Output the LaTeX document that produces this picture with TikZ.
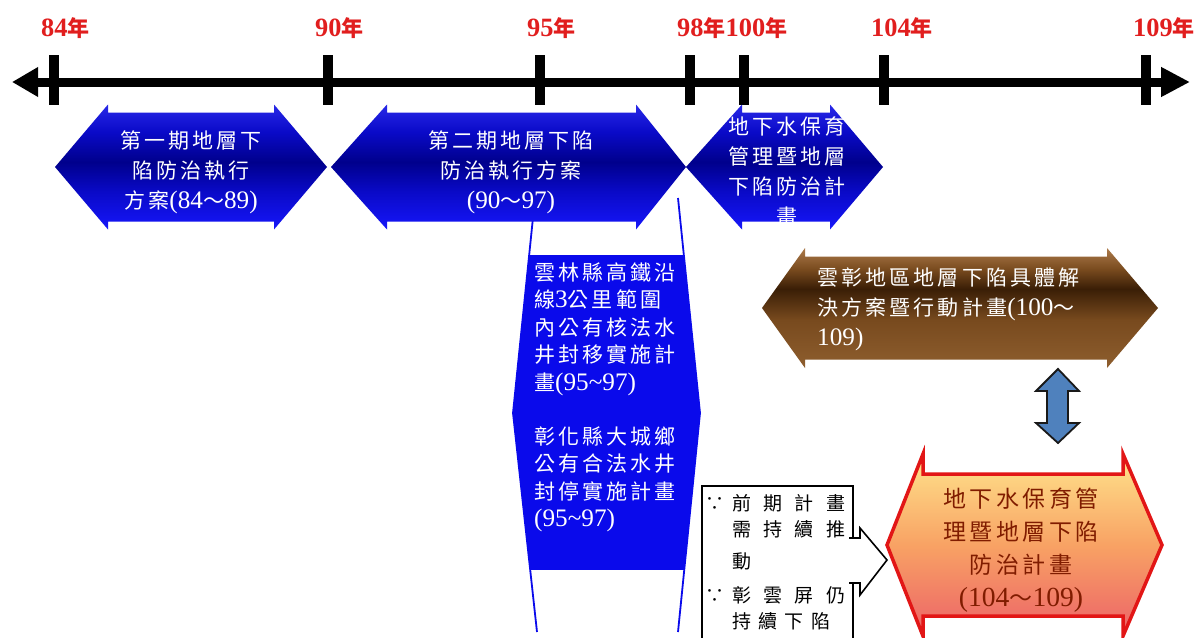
\documentclass[tikz,border=0pt]{standalone}
\usepackage{fontspec}
\usetikzlibrary{arrows.meta}
\setmainfont{Noto Sans CJK TC}[LetterSpace=15]
\newfontfamily\cjkplain{Noto Sans CJK TC}
\newfontfamily\lat{Liberation Serif}[Scale=1.2]
\newcommand\dg[1]{{\lat #1}}
\definecolor{yearred}{RGB}{225,30,30}
\definecolor{blA}{RGB}{22,22,250}
\definecolor{blB}{RGB}{10,10,200}
\definecolor{blC}{RGB}{0,0,140}
\definecolor{blD}{RGB}{40,40,232}
\definecolor{vfill}{RGB}{10,10,235}
\definecolor{brT}{RGB}{172,122,74}
\definecolor{brD}{RGB}{58,30,6}
\definecolor{brM}{RGB}{120,74,30}
\definecolor{brB}{RGB}{142,94,46}
\definecolor{orT}{RGB}{255,228,140}
\definecolor{orM}{RGB}{248,162,100}
\definecolor{orB}{RGB}{236,98,104}
\definecolor{redline}{RGB}{226,22,22}
\definecolor{steel}{RGB}{79,129,189}
\definecolor{otext}{RGB}{128,28,0}
\pgfdeclareverticalshading{blueshade}{100bp}{color(0bp)=(blA); color(25bp)=(blA); color(40bp)=(blB); color(52bp)=(blC); color(64bp)=(blB); color(75bp)=(blD); color(100bp)=(blD)}
\pgfdeclareverticalshading{brownshade}{100bp}{color(0bp)=(brB); color(25bp)=(brB); color(45bp)=(brM); color(58bp)=(brD); color(66bp)=(brM); color(75bp)=(brT); color(100bp)=(brT)}
\pgfdeclareverticalshading{orangeshade}{100bp}{color(0bp)=(orB); color(25bp)=(orB); color(50bp)=(orM); color(75bp)=(orT); color(100bp)=(orT)}
\newcommand\dblarrow[8]{%
  \path[#1] (#2,#6) -- (#3,#6-#8) -- (#3,#6-#7) -- (#4,#6-#7) -- (#4,#6-#8) -- (#5,#6)
    -- (#4,#6+#8) -- (#4,#6+#7) -- (#3,#6+#7) -- (#3,#6+#8) -- cycle;}
\tikzset{
  year/.style={anchor=west, inner sep=0pt, text=yearred, font=\fontsize{22}{22}\selectfont\bfseries},
  tickbar/.style={fill=black},
  timeline/.style={line width=9pt, {Triangle[length=26pt 0 0,width=28pt 0 0]}-{Triangle[length=29pt 0 0,width=28pt 0 0]}},
  wtext/.style={text=white, inner sep=0pt, font=\fontsize{21}{30}\selectfont},
  vtext/.style={text=white, inner sep=0pt, anchor=north west, align=left, font=\fontsize{21}{27.5}\selectfont},
  otxt/.style={text=otext, inner sep=0pt, align=center, font=\fontsize{23}{33}\selectfont},
  boxtxt/.style={anchor=west, inner sep=0pt, font=\cjkplain\fontsize{19}{19}\selectfont},
  blockarrow/.style={fill=white, draw=black, line width=1.6pt, line join=miter},
  updown/.style={fill=steel, draw=black!90, line width=1.8pt, line join=miter},
}
\begin{document}
\begin{tikzpicture}[x=1pt,y=-1pt]
\useasboundingbox (0,0) rectangle (1204,637);
\fill[white] (0,0) rectangle (1204,637);
% timeline
\coordinate (tl) at (12,82);
\coordinate (tr) at (1190,82);
\draw[timeline] (tl) -- (tr);
\foreach \t in {54,328,540,690,744,884,1146} \fill[tickbar] (\t-5,55) rectangle (\t+5,105);
% year labels
\node[year] (y84) at (41,28) {\dg{84}年};
\node[year] (y90) at (315,28) {\dg{90}年};
\node[year] (y95) at (527,28) {\dg{95}年};
\node[year] (y98) at (677,28) {\dg{98}年\dg{100}年};
\node[year] (y104) at (871,28) {\dg{104}年};
\node[year] (y109) at (1133,28) {\dg{109}年};
% vertical blue shape
\begin{scope}
\clip (535,198) -- (678,198) -- (700,413) -- (678,632) -- (537,632) -- (513,413) -- cycle;
\fill[vfill] (500,255) rectangle (710,570);
\end{scope}
\draw[vfill, line width=1.8pt] (535,198) -- (513,413) -- (537,632);
\draw[vfill, line width=1.8pt] (678,198) -- (700,413) -- (678,632);
\node[vtext] (v1) at (534,262) {雲林縣高鐵沿\\線\dg{3}公里範圍\\內公有核法水\\井封移實施計\\畫\dg{(95\textasciitilde97)}};
\node[vtext] (v2) at (534,426) {彰化縣大城鄉\\公有合法水井\\封停實施計畫\\\dg{(95\textasciitilde97)}};
% blue double arrows
\dblarrow{shade, shading=blueshade}{55}{108}{274}{327}{167}{54.5}{62.5}
\dblarrow{shade, shading=blueshade}{331}{387}{636}{686}{167}{54.5}{62.5}
\dblarrow{shade, shading=blueshade}{686}{742}{830}{883}{167}{54.5}{62.5}
\node[wtext, align=center] (a1) at (191,172) {第一期地層下\\陷防治執行\\方案\dg{(84}～\dg{89)}};
\node[wtext, align=center] (a2) at (511,172) {第二期地層下陷\\防治執行方案\\\dg{(90}～\dg{97)}};
\node[wtext, align=center] (a3) at (787,171) {地下水保育\\管理暨地層\\下陷防治計\\畫};
% brown arrow
\dblarrow{shade, shading=brownshade}{762}{805}{1107}{1158}{308}{51.5}{60}
\node[wtext, anchor=west, align=left] (br) at (817,309) {雲彰地區地層下陷具體解\\決方案暨行動計畫\dg{(100}～\\\dg{109)}};
% up-down arrow
\path[updown] (1058,369) -- (1079,391) -- (1068,391) -- (1068,423) -- (1079,423) -- (1058,443)
  -- (1036,423) -- (1047,423) -- (1047,391) -- (1036,391) -- cycle;
% orange arrow
\dblarrow{shade, shading=orangeshade, draw=redline, line width=3.5pt, line join=miter}{887}{923}{1123}{1162}{545}{71}{91}
\node[otxt] (or) at (1021,550) {地下水保育管\\理暨地層下陷\\防治計畫\\\dg{(104}～\dg{109)}};
% reason box
\node[draw, line width=2pt, minimum width=151pt, minimum height=170pt, anchor=north west, inner sep=0pt] (box) at (701,485) {};
\node[boxtxt] (b1) at (705,503) {\makebox[27pt][l]{∵}\makebox[113pt][s]{前\hfill 期\hfill 計\hfill 畫}};
\node[boxtxt] (b2) at (705,529) {\makebox[27pt]{}\makebox[113pt][s]{需\hfill 持\hfill 續\hfill 推}};
\node[boxtxt] (b3) at (705,561) {\makebox[27pt]{}動};
\node[boxtxt] (b4) at (705,595) {\makebox[27pt][l]{∵}\makebox[113pt][s]{彰\hfill 雲\hfill 屏\hfill 仍}};
\node[boxtxt] (b5) at (705,621) {\makebox[27pt]{}\makebox[98pt][s]{持\hfill 續\hfill 下\hfill 陷}};
% block arrow from box to plan
\filldraw[blockarrow] (849,538) -- (860,538) -- (860,528) -- (887,560) -- (860,595) -- (860,583) -- (849,583);
\end{tikzpicture}
\end{document}
